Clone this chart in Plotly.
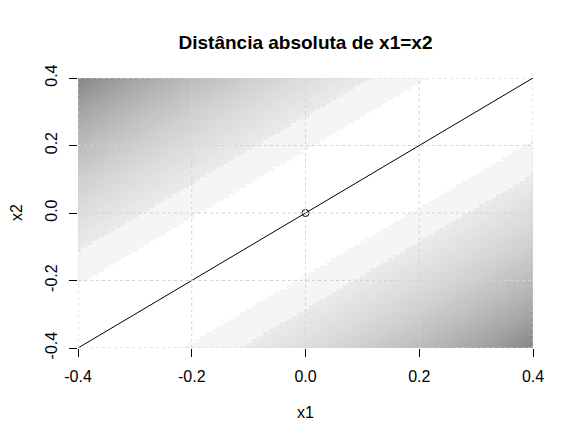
import numpy as np
import plotly.graph_objects as go

# ---- data ----
x1_grid = np.round(np.arange(-0.4, 0.40001, 0.01), 3)   # grid of x1 values
x2_grid = np.round(np.arange(-0.4, 0.40001, 0.01), 3)   # grid of x2 values
X1, X2 = np.meshgrid(x1_grid, x2_grid)
dist = np.abs(X1 - X2)                                  # absolute distance |x1 - x2|

line_x = [-0.4, 0.4]        # reference line x1 = x2
line_y = [-0.4, 0.4]
point_x = [0.0]             # marked point
point_y = [0.0]

tick_vals = [-0.4, -0.2, 0.0, 0.2, 0.4]
tick_text = ["-0.4", "-0.2", "0.0", "0.2", "0.4"]

# ---- gray colour scale (distance -> gray level) ----
zmax = 0.8
anchors = [(0.0, 255), (0.185, 255), (0.19, 245), (0.28, 245), (0.285, 235),
           (0.4, 221), (0.5, 206), (0.6, 187), (0.7, 164), (0.8, 134)]
colorscale = []
for d, g in anchors:
    colorscale.append([d / zmax, f"rgb({g},{g},{g})"])

FONT = "Liberation Sans, Arial, sans-serif"
W, H = 566, 438

fig = go.Figure()
fig.add_trace(go.Heatmap(
    x=x1_grid, y=x2_grid, z=dist, zmin=0, zmax=zmax,
    colorscale=colorscale, showscale=False, hoverinfo="skip"))
fig.add_trace(go.Scatter(
    x=line_x, y=line_y, mode="lines",
    line=dict(color="black", width=1), hoverinfo="skip", showlegend=False))
fig.add_trace(go.Scatter(
    x=point_x, y=point_y, mode="markers",
    marker=dict(symbol="circle-open", size=7, color="black", line=dict(width=1)),
    showlegend=False, cliponaxis=False))

# dotted grid drawn above the image
for v in tick_vals:
    fig.add_shape(type="line", xref="x", yref="y", x0=v, x1=v,
                  y0=tick_vals[0], y1=tick_vals[-1], layer="above",
                  line=dict(color="#d3d3d3", width=1, dash="dot"))
    fig.add_shape(type="line", xref="x", yref="y", y0=v, y1=v,
                  x0=tick_vals[0], x1=tick_vals[-1], layer="above",
                  line=dict(color="#d3d3d3", width=1, dash="dot"))

axis_common = dict(
    range=[-0.4, 0.4], showgrid=False, zeroline=False, showline=False,
    ticks="outside", ticklen=8, tickwidth=1, tickcolor="black",
    tickvals=tick_vals, ticktext=tick_text,
    tickfont=dict(family=FONT, size=16, color="black"),
)

fig.update_layout(
    width=W, height=H,
    margin=dict(l=70, r=41, t=70, b=98),
    paper_bgcolor="white", plot_bgcolor="white",
    title=dict(text="<b>Distância absoluta de x1=x2</b>",
               font=dict(family=FONT, size=19, color="black"),
               x=297.5 / W, xanchor="center", y=1 - 34 / H, yanchor="middle"),
    xaxis=dict(**axis_common, ticklabelstandoff=6),
    yaxis=dict(**axis_common, tickangle=-90, ticklabelstandoff=6),
    annotations=[
        dict(text="x1", xref="paper", yref="paper", x=0.5, y=0, yshift=-64,
             showarrow=False, font=dict(family=FONT, size=16, color="black"),
             xanchor="center", yanchor="middle"),
        dict(text="x2", xref="paper", yref="paper", x=0, y=0.5, xshift=-62,
             textangle=-90, showarrow=False,
             font=dict(family=FONT, size=16, color="black"),
             xanchor="center", yanchor="middle"),
    ],
)

fig.write_html("out.html")
